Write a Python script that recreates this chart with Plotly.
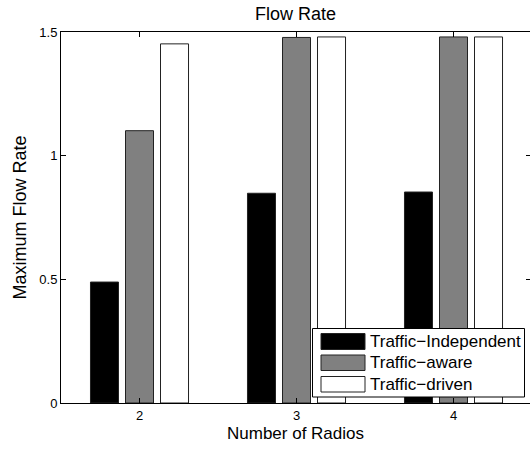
import plotly.graph_objects as go

categories = [2, 3, 4]
independent = [0.489, 0.848, 0.853]
aware = [1.101, 1.478, 1.480]
driven = [1.452, 1.480, 1.480]
series_names = ["Traffic−Independent", "Traffic−aware", "Traffic−driven"]
series_colors = ["#000000", "#808080", "#ffffff"]
y_ticks = [0, 0.5, 1, 1.5]
y_tick_labels = ["0", "0.5", "1", "1.5"]

W, H = 530, 449
L, R, T, B = 61, 0, 32, 46
PW, PH = W - L - R, H - T - B

fig = go.Figure()
for name, vals, col in zip(series_names, [independent, aware, driven], series_colors):
    fig.add_trace(go.Bar(x=categories, y=vals, name=name, marker=dict(color=col, line=dict(color="#222222", width=1)),
                         showlegend=False))
# dummy trace for the right-side tick axis
fig.add_trace(go.Scatter(x=[None], y=[None], yaxis="y2", showlegend=False, hoverinfo="skip"))

font = "Liberation Sans, Arial, Helvetica, sans-serif"
fig.update_layout(
    width=W, height=H,
    margin=dict(l=L, r=R, t=T, b=B),
    paper_bgcolor="white", plot_bgcolor="white",
    barmode="group", bargap=0.331, bargroupgap=0.2,
    font=dict(family=font, color="black", size=13),
    title=dict(text="Flow Rate", x=(L + PW / 2) / W, xanchor="center", y=1 - 14 / H, yanchor="middle",
               font=dict(size=18, family=font, color="black")),
    xaxis=dict(range=[1.5, 1.5 + PW / 157.0], tickvals=categories, ticktext=[str(c) for c in categories],
               ticks="inside", ticklen=5, tickcolor="black", showline=True, linecolor="black", linewidth=1,
               mirror="ticks", showgrid=False, zeroline=False, tickfont=dict(size=13),
               title=dict(text="Number of Radios", font=dict(size=17), standoff=5)),
    yaxis=dict(range=[0, 1.5], tickvals=y_ticks, ticktext=y_tick_labels, ticks="inside", ticklen=5,
               tickcolor="black", showline=True, linecolor="black", linewidth=1, showgrid=False, zeroline=False,
               tickfont=dict(size=13), title=dict(text="Maximum Flow Rate", font=dict(size=18), standoff=8)),
    yaxis2=dict(range=[0, 1.5], overlaying="y", side="right", tickvals=y_ticks, showticklabels=False,
                ticks="inside", ticklen=4, tickcolor="black", showline=False, showgrid=False, zeroline=False),
)

def px(x):
    return (x - L) / PW

def py(y):
    return (H - B - y) / PH

# legend box
fig.add_shape(type="rect", xref="paper", yref="paper", x0=px(312.5), x1=px(524.5), y0=py(397), y1=py(328.5),
              line=dict(color="black", width=1), fillcolor="white", layer="above")
rows = [(333.5, 349.5), (355, 370.5), (376.5, 392)]
for (y0, y1), name, col in zip(rows, series_names, series_colors):
    fig.add_shape(type="rect", xref="paper", yref="paper", x0=px(321), x1=px(365), y0=py(y1), y1=py(y0),
                  line=dict(color="#222222", width=1), fillcolor=col, layer="above")
    fig.add_annotation(xref="paper", yref="paper", x=px(368), y=py((y0 + y1) / 2), text=name, showarrow=False,
                       xanchor="left", yanchor="middle", font=dict(size=17, family=font, color="black"))

fig.write_html("out.html")
